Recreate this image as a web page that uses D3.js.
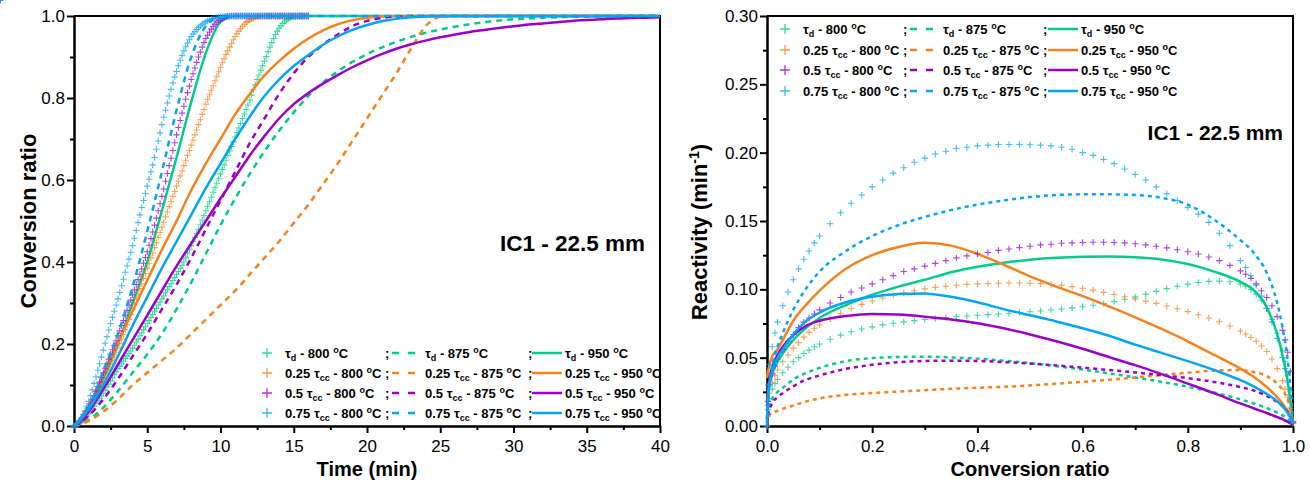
<!DOCTYPE html>
<html>
<head>
<meta charset="utf-8">
<script src="https://cdn.jsdelivr.net/npm/d3@7"></script>
<style>
  body { margin: 0; background: #fff; }
  svg { display: block; }
  text { font-family: "Liberation Sans", Arial, sans-serif; fill: #000; }
</style>
</head>
<body>
<svg id="chart" width="1310" height="486"></svg>
<script>
// ---------------- data ----------------
// Sampling grids
const timeFine = [0,0.125,0.25,0.375,0.5,0.625,0.75,0.875,1,1.125,1.25,1.375,1.5,1.625,1.75,1.875,2,2.125,2.25,2.375,2.5,2.625,2.75,2.875,3,3.125,3.25,3.375,3.5,3.625,3.75,3.875,4,4.125,4.25,4.375,4.5,4.625,4.75,4.875,5,5.125,5.25,5.375,5.5,5.625,5.75,5.875,6,6.125,6.25,6.375,6.5,6.625,6.75,6.875,7,7.125,7.25,7.375,7.5,7.625,7.75,7.875,8,8.125,8.25,8.375,8.5,8.625,8.75,8.875,9,9.125,9.25,9.375,9.5,9.625,9.75,9.875,10,10.125,10.25,10.375,10.5,10.625,10.75,10.875,11,11.125,11.25,11.375,11.5,11.625,11.75,11.875,12,12.125,12.25,12.375,12.5,12.625,12.75,12.875,13,13.125,13.25,13.375,13.5,13.625,13.75,13.875,14,14.125,14.25,14.375,14.5,14.625,14.75,14.875,15,15.125,15.25,15.375,15.5,15.625,15.75,15.875,16];
const timeCoarse = [0,1,2,3,4,5,6,7,8,9,10,11,12,13,14,15,16,17,18,19,20,21,22,23,24,25,26,27,28,29,30,31,32,33,34,35,36,37,38,39,40];
const convFine = [0,0.002,0.005,0.01,0.015,0.02,0.03,0.04,0.05,0.06,0.07,0.08,0.09,0.1,0.12,0.14,0.16,0.18,0.2,0.22,0.24,0.26,0.28,0.3,0.32,0.34,0.36,0.38,0.4,0.42,0.44,0.46,0.48,0.5,0.52,0.54,0.56,0.58,0.6,0.62,0.64,0.66,0.68,0.7,0.72,0.74,0.76,0.78,0.8,0.82,0.84,0.86,0.88,0.9,0.91,0.92,0.93,0.94,0.95,0.96,0.97,0.98,0.985,0.99,0.995,1];
const convCoarse = [0,0.002,0.005,0.01,0.02,0.03,0.05,0.075,0.1,0.15,0.2,0.25,0.3,0.35,0.4,0.45,0.5,0.55,0.6,0.65,0.7,0.75,0.8,0.85,0.9,0.925,0.95,0.97,0.98,0.99,0.995,1];

// Conversion ratio vs time (min); 800 °C runs on timeFine, the others on timeCoarse
const xTd800 = [0,0.002,0.004,0.007,0.01,0.014,0.019,0.024,0.03,0.036,0.042,0.048,0.055,0.061,0.067,0.073,0.08,0.087,0.095,0.102,0.11,0.117,0.125,0.132,0.14,0.146,0.152,0.158,0.165,0.171,0.177,0.183,0.19,0.197,0.205,0.212,0.22,0.227,0.235,0.242,0.25,0.257,0.265,0.272,0.28,0.287,0.295,0.302,0.31,0.317,0.325,0.332,0.34,0.347,0.355,0.362,0.37,0.377,0.385,0.392,0.4,0.41,0.42,0.43,0.44,0.45,0.46,0.47,0.48,0.491,0.502,0.513,0.525,0.536,0.547,0.558,0.57,0.581,0.592,0.603,0.615,0.626,0.637,0.648,0.66,0.671,0.682,0.693,0.705,0.716,0.727,0.738,0.75,0.761,0.772,0.783,0.795,0.807,0.82,0.832,0.845,0.856,0.868,0.879,0.89,0.901,0.913,0.924,0.935,0.945,0.955,0.963,0.97,0.976,0.982,0.986,0.99,0.993,0.995,0.997,0.998,0.999,0.999,1,1,1,1,1,1];
const xTd875 = [0,0.015,0.045,0.085,0.13,0.175,0.225,0.285,0.35,0.42,0.49,0.555,0.615,0.67,0.72,0.765,0.805,0.838,0.865,0.888,0.907,0.923,0.937,0.949,0.959,0.967,0.974,0.98,0.985,0.989,0.992,0.994,0.996,0.997,0.998,0.999,0.999,1,1,1,1];
const xTd950 = [0,0.04,0.115,0.2,0.3,0.4,0.525,0.655,0.79,0.91,0.985,1,1,1,1,1,1,1,1,1,1,1,1,1,1,1,1,1,1,1,1,1,1,1,1,1,1,1,1,1,1];
const x25_800 = [0,0.002,0.005,0.009,0.013,0.018,0.024,0.031,0.038,0.045,0.053,0.061,0.07,0.078,0.087,0.096,0.105,0.116,0.127,0.138,0.15,0.16,0.17,0.18,0.19,0.201,0.212,0.223,0.235,0.247,0.26,0.272,0.285,0.297,0.31,0.322,0.335,0.347,0.36,0.372,0.385,0.397,0.41,0.422,0.435,0.447,0.46,0.472,0.485,0.497,0.51,0.522,0.535,0.547,0.56,0.572,0.585,0.597,0.61,0.622,0.635,0.647,0.66,0.672,0.685,0.697,0.71,0.722,0.735,0.747,0.76,0.772,0.785,0.797,0.808,0.819,0.83,0.842,0.853,0.864,0.875,0.886,0.896,0.906,0.915,0.924,0.933,0.942,0.95,0.957,0.963,0.969,0.975,0.98,0.984,0.987,0.99,0.993,0.995,0.997,0.998,0.999,0.999,1,1,1,1,1,1,1,1,1,1,1,1,1,1,1,1,1,1,1,1,1,1,1,1,1];
const x25_875 = [0,0.012,0.035,0.065,0.1,0.13,0.16,0.19,0.225,0.26,0.295,0.33,0.37,0.41,0.45,0.495,0.54,0.59,0.64,0.695,0.75,0.805,0.86,0.92,0.975,0.998,1,1,1,1,1,1,1,1,1,1,1,1,1,1,1];
const x25_950 = [0,0.05,0.125,0.205,0.28,0.355,0.43,0.5,0.575,0.64,0.7,0.76,0.81,0.855,0.89,0.92,0.945,0.965,0.98,0.99,0.996,0.999,1,1,1,1,1,1,1,1,1,1,1,1,1,1,1,1,1,1,1];
const x50_800 = [0,0.003,0.006,0.01,0.015,0.021,0.028,0.036,0.045,0.054,0.064,0.074,0.085,0.096,0.107,0.118,0.13,0.141,0.152,0.163,0.175,0.186,0.197,0.208,0.22,0.232,0.245,0.257,0.27,0.282,0.295,0.307,0.32,0.332,0.345,0.357,0.37,0.383,0.397,0.411,0.425,0.441,0.457,0.473,0.49,0.507,0.525,0.542,0.56,0.578,0.597,0.616,0.635,0.653,0.672,0.691,0.71,0.728,0.745,0.763,0.78,0.797,0.813,0.829,0.845,0.859,0.873,0.887,0.9,0.912,0.924,0.935,0.945,0.953,0.961,0.968,0.975,0.98,0.985,0.989,0.992,0.994,0.996,0.998,0.999,0.999,1,1,1,1,1,1,1,1,1,1,1,1,1,1,1,1,1,1,1,1,1,1,1,1,1,1,1,1,1,1,1,1,1,1,1,1,1,1,1,1,1,1,1,1,1];
const x50_875 = [0,0.025,0.065,0.115,0.17,0.225,0.285,0.345,0.41,0.48,0.55,0.62,0.69,0.75,0.81,0.86,0.9,0.93,0.955,0.975,0.988,0.995,0.999,1,1,1,1,1,1,1,1,1,1,1,1,1,1,1,1,1,1];
const x50_950 = [0,0.035,0.09,0.15,0.21,0.27,0.33,0.39,0.445,0.5,0.555,0.607,0.66,0.707,0.75,0.785,0.812,0.835,0.856,0.875,0.892,0.907,0.92,0.931,0.94,0.948,0.955,0.961,0.966,0.971,0.975,0.979,0.982,0.985,0.988,0.99,0.992,0.994,0.995,0.996,0.997];
const x75_800 = [0,0.003,0.007,0.013,0.02,0.028,0.037,0.048,0.06,0.074,0.088,0.104,0.12,0.136,0.152,0.168,0.185,0.202,0.218,0.234,0.25,0.265,0.28,0.295,0.31,0.326,0.342,0.358,0.375,0.391,0.407,0.423,0.44,0.458,0.477,0.496,0.515,0.533,0.55,0.567,0.585,0.602,0.62,0.637,0.655,0.675,0.695,0.715,0.735,0.753,0.77,0.788,0.805,0.821,0.837,0.851,0.865,0.879,0.892,0.904,0.915,0.925,0.934,0.942,0.95,0.956,0.962,0.967,0.972,0.976,0.98,0.983,0.986,0.988,0.99,0.992,0.994,0.995,0.996,0.997,0.998,0.998,0.999,0.999,1,1,1,1,1,1,1,1,1,1,1,1,1,1,1,1,1,1,1,1,1,1,1,1,1,1,1,1,1,1,1,1,1,1,1,1,1,1,1,1,1,1,1,1,1,1,1];
const x75_875 = [0,0.045,0.135,0.225,0.34,0.475,0.62,0.77,0.9,0.975,0.998,1,1,1,1,1,1,1,1,1,1,1,1,1,1,1,1,1,1,1,1,1,1,1,1,1,1,1,1,1,1];
const x75_950 = [0,0.04,0.1,0.17,0.245,0.315,0.385,0.45,0.515,0.58,0.64,0.7,0.755,0.805,0.845,0.878,0.905,0.93,0.95,0.966,0.978,0.987,0.993,0.997,0.999,1,1,1,1,1,1,1,1,1,1,1,1,1,1,1,1];

// Reactivity (min^-1) vs conversion ratio; 800 °C runs on convFine, the others on convCoarse
const rTd800 = [0,0.012,0.02,0.027,0.031,0.034,0.039,0.043,0.047,0.05,0.053,0.0555,0.058,0.06,0.0635,0.0665,0.069,0.071,0.0725,0.074,0.0752,0.0762,0.0771,0.0779,0.0786,0.0793,0.0799,0.0805,0.081,0.0815,0.082,0.0825,0.083,0.0836,0.0842,0.0849,0.0856,0.0864,0.0873,0.0884,0.0896,0.091,0.0927,0.0945,0.0965,0.0985,0.1005,0.1023,0.1038,0.105,0.1058,0.106,0.1055,0.104,0.1025,0.1,0.0965,0.092,0.086,0.078,0.068,0.055,0.047,0.037,0.025,0.003];
const rTd875 = [0.002,0.01,0.015,0.02,0.025,0.028,0.034,0.039,0.0425,0.0475,0.0497,0.0505,0.0507,0.0502,0.0493,0.0478,0.046,0.0438,0.0413,0.0385,0.0355,0.0323,0.0287,0.0245,0.0195,0.0165,0.0132,0.0098,0.0078,0.0052,0.0035,0.001];
const rTd950 = [0.005,0.02,0.03,0.038,0.047,0.053,0.063,0.072,0.079,0.0885,0.096,0.102,0.107,0.1125,0.1165,0.1195,0.1217,0.1231,0.1238,0.124,0.1234,0.1218,0.1185,0.113,0.1055,0.0995,0.087,0.067,0.052,0.032,0.018,0.002];
const r25_800 = [0,0.015,0.024,0.032,0.037,0.041,0.047,0.052,0.057,0.061,0.065,0.0685,0.0715,0.074,0.0785,0.0825,0.086,0.089,0.0915,0.0937,0.0957,0.0975,0.099,0.1003,0.1014,0.1023,0.103,0.1036,0.104,0.1043,0.1045,0.1046,0.1046,0.1045,0.1042,0.1037,0.103,0.102,0.1008,0.0994,0.0978,0.0962,0.0946,0.093,0.0914,0.0897,0.0878,0.0858,0.0837,0.0814,0.079,0.0763,0.0732,0.0695,0.0673,0.0648,0.062,0.0585,0.0545,0.049,0.042,0.033,0.027,0.021,0.013,0.002];
const r25_875 = [0.001,0.005,0.008,0.0095,0.011,0.0125,0.015,0.018,0.0202,0.0228,0.0242,0.0252,0.0262,0.0272,0.028,0.0287,0.0297,0.031,0.0323,0.0338,0.0355,0.0373,0.039,0.0405,0.041,0.0395,0.0365,0.031,0.0265,0.019,0.012,0.002];
const r25_950 = [0.035,0.04,0.045,0.051,0.056,0.063,0.077,0.089,0.099,0.115,0.125,0.131,0.134,0.132,0.126,0.118,0.1095,0.102,0.095,0.0875,0.0795,0.071,0.062,0.052,0.042,0.036,0.0285,0.021,0.0165,0.011,0.008,0.005];
const r50_800 = [0,0.018,0.03,0.038,0.044,0.049,0.056,0.062,0.067,0.072,0.076,0.079,0.082,0.085,0.09,0.094,0.098,0.101,0.104,0.107,0.11,0.113,0.115,0.117,0.119,0.121,0.123,0.1245,0.126,0.127,0.1285,0.1295,0.1305,0.1315,0.1325,0.133,0.1337,0.134,0.1343,0.1345,0.1345,0.1343,0.134,0.1333,0.1325,0.1315,0.1303,0.129,0.1275,0.1258,0.1237,0.121,0.1175,0.1135,0.111,0.108,0.104,0.099,0.094,0.088,0.08,0.07,0.063,0.054,0.04,0.003];
const r50_875 = [0.002,0.008,0.012,0.017,0.021,0.024,0.029,0.034,0.037,0.0418,0.0448,0.0467,0.0476,0.0478,0.0476,0.0468,0.0457,0.0443,0.0427,0.041,0.0392,0.0372,0.035,0.0322,0.0285,0.026,0.022,0.0175,0.0145,0.01,0.007,0.002];
const r50_950 = [0.005,0.025,0.035,0.043,0.052,0.058,0.0665,0.0735,0.077,0.0805,0.082,0.0815,0.08,0.078,0.0752,0.0715,0.067,0.062,0.0565,0.0505,0.0445,0.038,0.031,0.024,0.0165,0.013,0.0095,0.0065,0.005,0.003,0.002,0.001];
const r75_800 = [0,0.03,0.045,0.058,0.068,0.076,0.088,0.098,0.107,0.115,0.122,0.128,0.134,0.139,0.148,0.156,0.163,0.169,0.175,0.18,0.185,0.189,0.193,0.196,0.199,0.201,0.203,0.204,0.205,0.2055,0.206,0.206,0.206,0.2058,0.2055,0.205,0.204,0.2025,0.2,0.198,0.195,0.192,0.188,0.184,0.18,0.175,0.17,0.165,0.16,0.155,0.149,0.141,0.132,0.121,0.116,0.11,0.103,0.095,0.086,0.076,0.064,0.05,0.042,0.032,0.02,0.002];
const r75_875 = [0,0.02,0.033,0.044,0.058,0.068,0.085,0.101,0.113,0.128,0.139,0.147,0.153,0.158,0.162,0.165,0.1675,0.169,0.1695,0.1695,0.169,0.167,0.162,0.151,0.136,0.127,0.112,0.09,0.072,0.048,0.03,0.002];
const r75_950 = [0.003,0.022,0.032,0.04,0.05,0.056,0.067,0.077,0.083,0.0905,0.0945,0.0965,0.097,0.0945,0.0905,0.0855,0.081,0.0765,0.0715,0.066,0.0595,0.0535,0.0475,0.041,0.0335,0.029,0.0235,0.018,0.0145,0.0095,0.006,0.002];

// Legend rows (carrier condition) and columns (temperature)
const conditions = [
  { prefix: "",      sub: "d",  color: "#00cc88" },
  { prefix: "0.25 ", sub: "cc", color: "#f5821f" },
  { prefix: "0.5 ",  sub: "cc", color: "#9b00c9" },
  { prefix: "0.75 ", sub: "cc", color: "#05a5f4" }
];
const temperatures = ["800", "875", "950"];
const timeSeries = [
  [xTd800, xTd875, xTd950],
  [x25_800, x25_875, x25_950],
  [x50_800, x50_875, x50_950],
  [x75_800, x75_875, x75_950]
];
const reactivitySeries = [
  [rTd800, rTd875, rTd950],
  [r25_800, r25_875, r25_950],
  [r50_800, r50_875, r50_950],
  [r75_800, r75_875, r75_950]
];

const timeTicks = [0, 5, 10, 15, 20, 25, 30, 35, 40];
const timeMinor = [2.5, 7.5, 12.5, 17.5, 22.5, 27.5, 32.5, 37.5];
const convTicks = [0, 0.2, 0.4, 0.6, 0.8, 1.0];
const convMinor = [0.1, 0.3, 0.5, 0.7, 0.9];
const ratioTicks = [0, 0.2, 0.4, 0.6, 0.8, 1.0];
const ratioMinor = [0.1, 0.3, 0.5, 0.7, 0.9];
const reactTicks = [0, 0.05, 0.1, 0.15, 0.2, 0.25, 0.3];
const reactMinor = [0.025, 0.075, 0.125, 0.175, 0.225, 0.275];
const sampleLabel = "IC1 - 22.5 mm";

// ---------------- drawing ----------------
const svg = d3.select("#chart");
svg.append("rect").attr("width", 1310).attr("height", 486).attr("fill", "#fff");

const xTime = d3.scaleLinear().domain([0, 40]).range([74, 660]);
const yConv = d3.scaleLinear().domain([0, 1]).range([426, 16]);
const xConv = d3.scaleLinear().domain([0, 1]).range([767, 1293]);
const yReact = d3.scaleLinear().domain([0, 0.3]).range([426, 16]);

const plusPath = "M-3.2,0H3.2M0,-3.2V3.2";
const plusLegend = "M-5,0H5M0,-5V5";

function styleAxis(g) {
  g.select(".domain").attr("stroke", "#000").attr("stroke-width", 2);
  g.selectAll(".tick line").attr("stroke", "#000").attr("stroke-width", 2);
  g.selectAll(".tick text").attr("font-size", 17).attr("font-family", "'Liberation Sans', Arial, sans-serif").attr("fill", "#000");
}

function drawPanel(opt) {
  const g = svg.append("g");
  const [x0, x1] = opt.x.range();
  const [y1, y0] = opt.y.range();
  // frame: top and right edges
  g.append("path").attr("d", `M${x0},${y0}H${x1}V${y1}`).attr("fill", "none").attr("stroke", "#000").attr("stroke-width", 2);

  // minor ticks
  g.append("g").attr("transform", `translate(0,${y1})`)
    .call(d3.axisBottom(opt.x).tickValues(opt.xMinor).tickSize(4).tickSizeOuter(0).tickFormat(""))
    .call(styleAxis);
  g.append("g").attr("transform", `translate(${x0},0)`)
    .call(d3.axisLeft(opt.y).tickValues(opt.yMinor).tickSize(4).tickSizeOuter(0).tickFormat(""))
    .call(styleAxis);
  // major ticks
  g.append("g").attr("transform", `translate(0,${y1})`)
    .call(d3.axisBottom(opt.x).tickValues(opt.xTicks).tickSize(7).tickPadding(7).tickSizeOuter(0).tickFormat(opt.xFormat))
    .call(styleAxis);
  g.append("g").attr("transform", `translate(${x0},0)`)
    .call(d3.axisLeft(opt.y).tickValues(opt.yTicks).tickSize(7).tickPadding(2).tickSizeOuter(0).tickFormat(opt.yFormat))
    .call(styleAxis);

  // series
  const plot = g.append("g");
  conditions.forEach((c, ri) => {
    temperatures.forEach((tmp, ci) => {
      const xs = ci === 0 ? opt.gridFine : opt.gridCoarse;
      const vals = opt.series[ri][ci];
      const pts = vals.map((v, i) => ({ x: xs[i], y: v }));
      if (ci === 0) {
        plot.append("g").selectAll("path").data(pts).join("path")
          .attr("d", plusPath)
          .attr("transform", d => `translate(${opt.x(d.x)},${opt.y(d.y)})`)
          .attr("stroke", c.color).attr("stroke-width", 1.1).attr("stroke-opacity", 0.75).attr("fill", "none");
      } else {
        const line = d3.line().x(d => opt.x(d.x)).y(d => opt.y(d.y)).curve(d3.curveMonotoneX);
        plot.append("path").datum(pts).attr("d", line)
          .attr("fill", "none").attr("stroke", c.color).attr("stroke-width", 2.5)
          .attr("stroke-dasharray", ci === 1 ? opt.dash : null);
      }
    });
  });

  // axis titles
  g.append("text").attr("x", (x0 + x1) / 2).attr("y", 476).attr("text-anchor", "middle")
    .attr("font-size", 20).attr("font-weight", "bold").text(opt.xTitle);
  const yt = g.append("text").attr("transform", `translate(${opt.yTitleX},${opt.yTitleY}) rotate(-90)`)
    .attr("text-anchor", "middle").attr("font-size", 22).attr("font-weight", "bold");
  yt.append("tspan").text(opt.yTitle);
  if (opt.yTitleSup) {
    yt.append("tspan").attr("font-size", 14).attr("dy", -8).text(opt.yTitleSup);
    yt.append("tspan").attr("dy", 8).text(")");
  }

  // sample annotation
  g.append("text").attr("x", opt.noteX).attr("y", opt.noteY).attr("text-anchor", "end")
    .attr("font-size", opt.noteSize).attr("font-weight", "bold").text(sampleLabel);

  // legend
  const lg = g.append("g");
  conditions.forEach((c, ri) => {
    const cy = opt.legendY[ri];
    const lx = opt.legendX;
    const by = cy + 4.5;
    lg.append("path").attr("d", plusLegend).attr("transform", `translate(${lx},${cy})`)
      .attr("stroke", c.color).attr("stroke-width", 1.3).attr("stroke-opacity", 0.8).attr("fill", "none");
    lg.append("line").attr("x1", lx + 125).attr("x2", lx + 148).attr("y1", cy).attr("y2", cy)
      .attr("stroke", c.color).attr("stroke-width", 2.5).attr("stroke-dasharray", "7,9");
    lg.append("line").attr("x1", lx + opt.lineStart).attr("x2", lx + opt.lineStart + 30).attr("y1", cy).attr("y2", cy)
      .attr("stroke", c.color).attr("stroke-width", 2.5);
    const textX = [lx + 18, lx + 158, lx + opt.lineStart + 33];
    temperatures.forEach((tmp, ci) => {
      const t = lg.append("text").attr("x", textX[ci]).attr("y", by).attr("font-size", 13).attr("font-weight", "bold");
      t.append("tspan").text(c.prefix + "\u03c4");
      t.append("tspan").attr("font-size", 9).attr("dy", 3).text(c.sub);
      t.append("tspan").attr("dy", -3).text(" - " + tmp + " ");
      t.append("tspan").attr("font-size", 9).attr("dy", -5).text("o");
      t.append("tspan").attr("dy", 5).text("C");
    });
    [lx + 118, lx + opt.semi2].forEach(sx => {
      lg.append("text").attr("x", sx).attr("y", by).attr("font-size", 13).attr("font-weight", "bold").text(";");
    });
  });
}

const fmt1 = d3.format(".1f");
const fmt2 = d3.format(".2f");

drawPanel({
  x: xTime, y: yConv,
  xTicks: timeTicks, xMinor: timeMinor, yTicks: ratioTicks, yMinor: ratioMinor,
  xFormat: d3.format("d"), yFormat: fmt1,
  gridFine: timeFine, gridCoarse: timeCoarse, series: timeSeries,
  dash: "6,5",
  xTitle: "Time (min)", yTitle: "Conversion ratio", yTitleX: 36, yTitleY: 221,
  noteX: 645, noteY: 251, noteSize: 22.5,
  legendX: 267, legendY: [353, 373, 393, 413], lineStart: 265, semi2: 261
});

drawPanel({
  x: xConv, y: yReact,
  xTicks: convTicks, xMinor: convMinor, yTicks: reactTicks, yMinor: reactMinor,
  xFormat: fmt1, yFormat: fmt2,
  gridFine: convFine, gridCoarse: convCoarse, series: reactivitySeries,
  dash: "4,4",
  xTitle: "Conversion ratio", yTitle: "Reactivity (min", yTitleSup: "-1", yTitleX: 707, yTitleY: 232,
  noteX: 1283, noteY: 140, noteSize: 21,
  legendX: 785, legendY: [29, 50, 70, 91], lineStart: 263, semi2: 258
});
</script>
</body>
</html>
